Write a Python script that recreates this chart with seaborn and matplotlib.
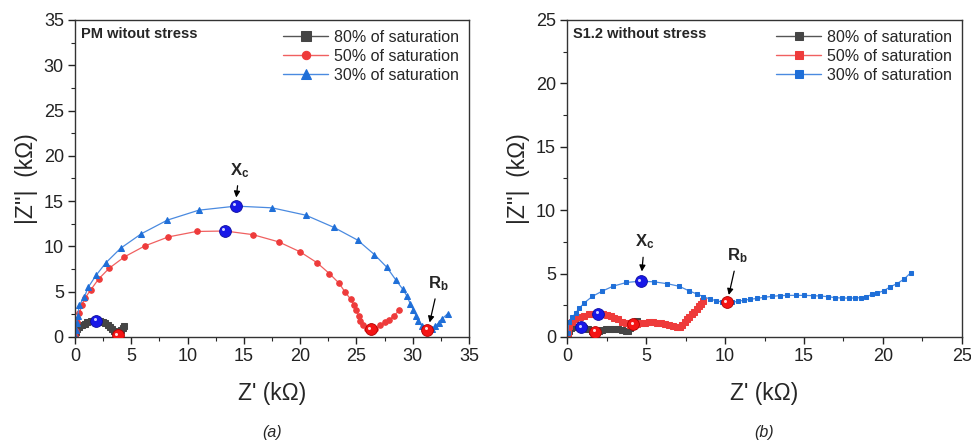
import seaborn as sns
import matplotlib.pyplot as plt
import matplotlib.transforms as mtransforms
import pandas as pd

# ---- panel (a): PM without stress ----
a80_x = [0.02, 0.08, 0.2, 0.4, 0.6, 0.85, 1.1, 1.4, 1.7, 1.95, 2.2, 2.45, 2.7, 2.9, 3.1, 3.3, 3.5, 3.65, 3.8, 3.95, 4.1, 4.25, 4.4]
a80_y = [0.05, 0.5, 0.85, 1.1, 1.3, 1.45, 1.6, 1.72, 1.8, 1.82, 1.78, 1.68, 1.52, 1.35, 1.12, 0.88, 0.62, 0.4, 0.2, 0.45, 0.75, 1.0, 1.25]

a50_x = [0.02, 0.1, 0.2, 0.4, 0.6, 0.9, 1.4, 2.1, 3.05, 4.4, 6.2, 8.3, 10.8, 13.35, 15.8, 18.1, 20.0, 21.5, 22.6, 23.45, 24.0,
         24.5, 24.8, 25.0, 25.2, 25.3, 25.6, 25.9, 26.3, 26.65, 27.1, 27.5, 27.9, 28.3, 28.8]
a50_y = [0.1, 0.7, 1.6, 2.6, 3.5, 4.3, 5.2, 6.4, 7.6, 8.85, 10.05, 11.05, 11.65, 11.7, 11.3, 10.5, 9.4, 8.2, 7.0, 5.95, 4.95,
         4.15, 3.5, 2.95, 2.35, 1.75, 1.3, 0.9, 0.8, 0.9, 1.3, 1.6, 1.9, 2.3, 2.95]

a30_x = [0.02, 0.08, 0.14, 0.24, 0.38, 0.83, 1.18, 1.87, 2.75, 4.06, 5.9, 8.2, 11.0, 14.3, 17.5, 20.5, 23.0, 25.1, 26.6, 27.7,
         28.5, 29.1, 29.5, 29.8, 30.05, 30.3, 30.5, 30.8, 31.1, 31.3, 31.7, 32.0, 32.3, 32.6, 33.1]
a30_y = [0.1, 0.8, 1.5, 2.3, 3.5, 4.4, 5.5, 6.8, 8.2, 9.8, 11.4, 12.9, 14.0, 14.45, 14.26, 13.45, 12.1, 10.7, 9.1, 7.7,
         6.3, 5.3, 4.5, 3.6, 3.0, 2.35, 1.8, 1.25, 0.8, 0.75, 0.9, 1.2, 1.55, 2.0, 2.55]

a_xc_x = [1.9, 13.3, 14.3]
a_xc_y = [1.8, 11.7, 14.45]
a_rb_x = [3.8, 26.3, 31.3]
a_rb_y = [0.2, 0.85, 0.8]

# ---- panel (b): S1.2 without stress ----
b80_x = [0.03, 0.1, 0.25, 0.45, 0.65, 0.9, 1.1, 1.35, 1.6, 1.8, 2.0, 2.2, 2.45, 2.7, 3.0, 3.25, 3.5, 3.7, 3.85, 4.0, 4.15, 4.3, 4.42]
b80_y = [0.1, 0.45, 0.7, 0.8, 0.8, 0.75, 0.7, 0.6, 0.48, 0.42, 0.5, 0.55, 0.6, 0.63, 0.63, 0.6, 0.55, 0.48, 0.5, 0.68, 0.9, 1.1, 1.26]

b50_x = [0.05, 0.15, 0.3, 0.5, 0.8, 1.1, 1.4, 1.7, 1.98, 2.25, 2.5, 2.75, 3.0, 3.25, 3.5, 3.75, 4.0, 4.2, 4.45, 4.7,
         4.95, 5.2, 5.45, 5.7, 5.95, 6.2, 6.45, 6.7, 6.95, 7.15, 7.3, 7.45, 7.6, 7.75, 7.9, 8.05, 8.2, 8.35, 8.5, 8.62]
b50_y = [0.3, 0.85, 1.15, 1.4, 1.55, 1.68, 1.78, 1.84, 1.86, 1.82, 1.74, 1.62, 1.5, 1.38, 1.22, 1.08, 0.98, 1.0, 1.06, 1.1,
         1.13, 1.15, 1.15, 1.13, 1.1, 1.06, 0.96, 0.85, 0.77, 0.8, 0.95, 1.15, 1.38, 1.6, 1.8, 1.98, 2.2, 2.42, 2.62, 2.8]

b30_x = [0.06, 0.1, 0.34, 0.55, 0.76, 1.1, 1.6, 2.2, 2.9, 3.76, 4.65, 5.5, 6.35, 7.1, 7.7, 8.2, 8.63, 9.06, 9.44, 9.8,
         10.11, 10.43, 10.79, 11.17, 11.59, 12.01, 12.48, 12.96, 13.45, 13.95, 14.48, 15.01, 15.54, 16.02, 16.51, 16.97,
         17.4, 17.82, 18.2, 18.58, 18.92, 19.3, 19.65, 20.06, 20.46, 20.88, 21.34, 21.76]
b30_y = [0.3, 1.2, 1.55, 1.9, 2.25, 2.7, 3.2, 3.6, 4.0, 4.3, 4.4, 4.35, 4.2, 4.0, 3.65, 3.4, 3.18, 2.99, 2.86, 2.76,
         2.73, 2.73, 2.81, 2.89, 2.97, 3.04, 3.13, 3.2, 3.26, 3.28, 3.28, 3.28, 3.26, 3.23, 3.18, 3.1,
         3.07, 3.07, 3.07, 3.1, 3.15, 3.36, 3.47, 3.65, 3.96, 4.2, 4.57, 5.07]

b_xc_x = [0.9, 1.98, 4.65]
b_xc_y = [0.75, 1.85, 4.4]
b_rb_x = [1.8, 4.2, 10.1]
b_rb_y = [0.42, 1.0, 2.73]

labels = ['80% of saturation', '50% of saturation', '30% of saturation']

sns.set_theme(style="ticks")
plt.rcParams['font.family'] = ['Liberation Sans', 'DejaVu Sans']
plt.rcParams['mathtext.fontset'] = 'custom'
plt.rcParams['mathtext.rm'] = 'Liberation Sans'
plt.rcParams['mathtext.bf'] = 'Liberation Sans:bold'
plt.rcParams['mathtext.it'] = 'Liberation Sans:italic'

fig = plt.figure(figsize=(9.71, 4.42), dpi=100)
ax1 = fig.add_axes([0.0772, 0.2376, 0.4058, 0.7172])
ax2 = fig.add_axes([0.584, 0.2376, 0.4067, 0.7172])

mk_col = ['#454545', '#ee3b3b', '#1f6fd8']
ln_col = ['#555555', '#f06060', '#4a8ae0']


def draw(ax, series, markers, msizes, lws):
    for (x, y), lab, m, ms, lw, mc, lc in zip(series, labels, markers, msizes, lws, mk_col, ln_col):
        df = pd.DataFrame({'x': x, 'y': y})
        sns.lineplot(data=df, x='x', y='y', ax=ax, sort=False, estimator=None, color=lc, lw=lw,
                     marker=m, markersize=ms, markerfacecolor=mc, markeredgecolor=mc, label=lab)


draw(ax1, [(a80_x, a80_y), (a50_x, a50_y), (a30_x, a30_y)], ['s', 'o', '^'], [4.5, 4, 4.5], [2.5, 0.9, 0.9])
draw(ax2, [(b80_x, b80_y), (b50_x, b50_y), (b30_x, b30_y)], ['s', 's', 's'], [4, 4, 3.5], [2.5, 1.5, 0.9])

for ax, xc, yc, rx, ry in [(ax1, a_xc_x, a_xc_y, a_rb_x, a_rb_y), (ax2, b_xc_x, b_xc_y, b_rb_x, b_rb_y)]:
    ax.plot(xc, yc, 'o', ms=8.5, mfc='#1818e8', mec='#0c0ca0', mew=0.6, ls='none', zorder=5)
    ax.plot(rx, ry, 'o', ms=8.5, mfc='#f41414', mec='#b00000', mew=0.6, ls='none', zorder=5)
    shine = mtransforms.offset_copy(ax.transData, fig=fig, x=-1.2, y=1.2, units='points')
    ax.plot(xc, yc, 'o', ms=2.2, mfc='#d0d0ff', mec='none', ls='none', zorder=6, transform=shine)
    ax.plot(rx, ry, 'o', ms=2.2, mfc='#ffe0e0', mec='none', ls='none', zorder=6, transform=shine)

arr = dict(arrowstyle='-|>', color='black', lw=0.9, mutation_scale=9)
ax1.annotate(r'$\mathbf{X_c}$', xy=(14.3, 15.1), xytext=(14.6, 18.4), ha='center', va='center',
             fontsize=12, arrowprops=arr)
ax1.annotate(r'$\mathbf{R_b}$', xy=(31.45, 1.3), xytext=(32.3, 5.9), ha='center', va='center',
             fontsize=12, arrowprops=arr)
ax2.annotate(r'$\mathbf{X_c}$', xy=(4.72, 4.95), xytext=(4.9, 7.5), ha='center', va='center',
             fontsize=12, arrowprops=arr)
ax2.annotate(r'$\mathbf{R_b}$', xy=(10.2, 3.1), xytext=(10.8, 6.4), ha='center', va='center',
             fontsize=12, arrowprops=arr)

for ax, lim, title, tag in [(ax1, 35, 'PM witout stress', '(a)'), (ax2, 25, 'S1.2 without stress', '(b)')]:
    ax.set_xlim(0, lim)
    ax.set_ylim(0, lim)
    ax.set_xticks(range(0, lim + 1, 5))
    ax.set_yticks(range(0, lim + 1, 5))
    ax.set_xticks([v + 2.5 for v in range(0, lim, 5)], minor=True)
    ax.set_yticks([v + 2.5 for v in range(0, lim, 5)], minor=True)
    ax.tick_params(which='major', direction='out', length=5, width=1, labelsize=13, pad=3, colors='#222222')
    ax.tick_params(which='minor', direction='out', length=3, width=0.8)
    for s in ax.spines.values():
        s.set_visible(True)
        s.set_linewidth(1.0)
        s.set_color('#333333')
    ax.set_xlabel("Z' (kΩ)", fontsize=16.5, labelpad=12)
    ax.set_ylabel("|Z''|  (kΩ)", fontsize=16.5, labelpad=4)
    ax.text(0.015, 0.955, title, transform=ax.transAxes, fontsize=10.5, fontweight='bold', va='center')
    leg = ax.legend(loc='upper right', frameon=False, fontsize=11.5, handlelength=2.8, handletextpad=0.4,
                    labelspacing=0.25, borderaxespad=0.2, markerscale=1.5)
    for h in leg.get_lines():
        h.set_linewidth(1.0)
    ax.text(0.5, -0.3, tag, transform=ax.transAxes, fontsize=11.5, fontstyle='italic', ha='center', va='center')

fig.savefig('out.png', dpi=100)
